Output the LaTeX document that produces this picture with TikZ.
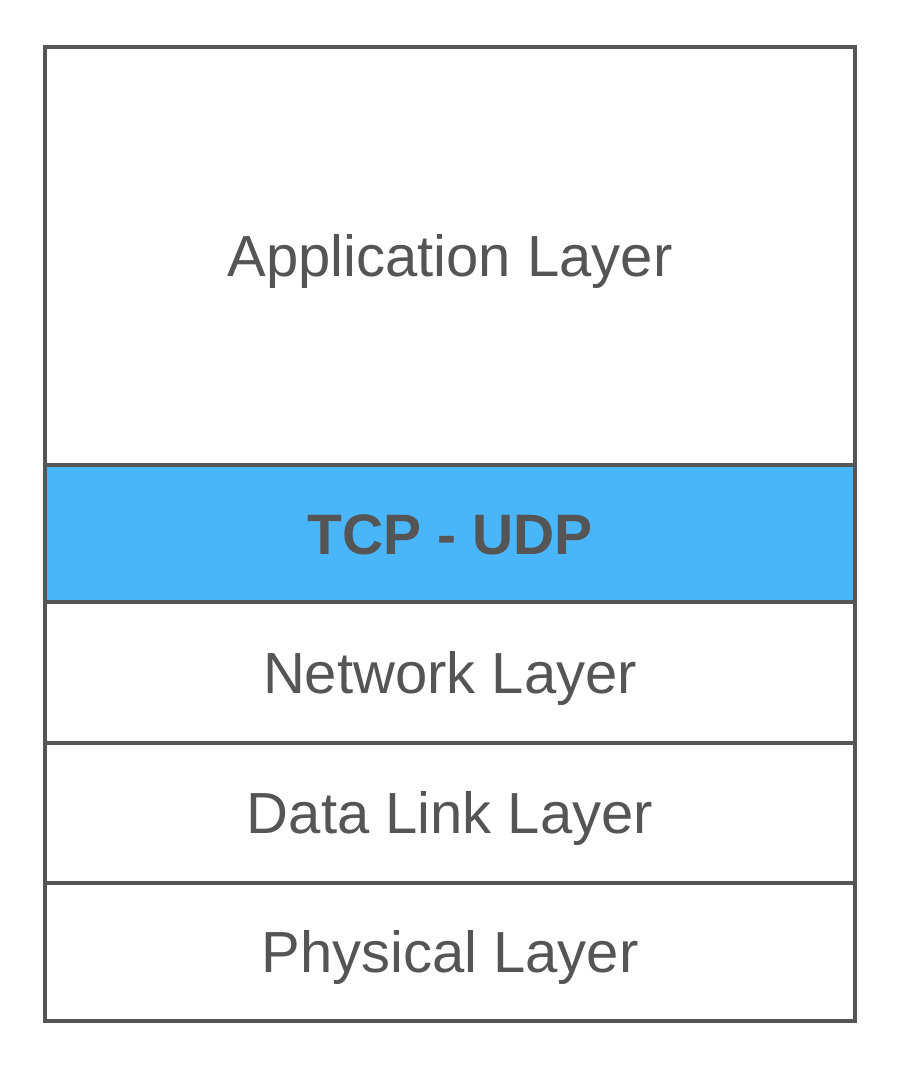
\documentclass[tikz,border=0pt]{standalone}
\usepackage{fontspec}
\setmainfont{Liberation Sans}
\definecolor{linegray}{HTML}{555555}
\definecolor{textgray}{HTML}{555555}
\definecolor{tcpblue}{HTML}{4AB6FA}
\begin{document}
\begin{tikzpicture}[x=1pt,y=-1pt,
  layer/.style={draw=linegray, line width=3.5pt, rectangle, minimum width=810pt,
    inner sep=0pt, outer sep=0pt, text height=41.5pt, text depth=0pt,
    font=\fontsize{58}{62}\selectfont, text=textgray, anchor=north west},
]
\useasboundingbox (0,0) rectangle (900,1070);
\node[layer, minimum height=418pt] (app) at (45,47) {Application Layer};
\node[layer, minimum height=137pt, fill=tcpblue, font=\fontsize{57}{60}\selectfont\bfseries] (tcp) at (45,465) {TCP - UDP};
\node[layer, minimum height=141pt] (net) at (45,602) {Network Layer};
\node[layer, minimum height=140pt] (dll) at (45,743) {Data Link Layer};
\node[layer, minimum height=138pt] (phy) at (45,883) {Physical Layer};
\end{tikzpicture}
\end{document}
